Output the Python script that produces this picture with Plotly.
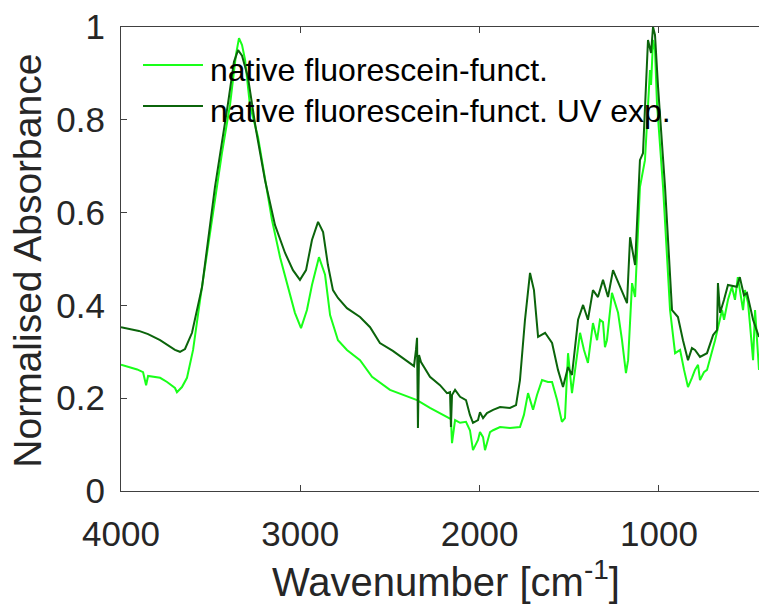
import plotly.graph_objects as go

# FTIR spectra: wavenumber (cm^-1) and normalised absorbance
wn_native = [4000, 3950, 3910, 3877, 3860, 3849, 3810, 3782, 3743, 3699, 3688, 3660, 3632, 3598,
             3559, 3504, 3437, 3392, 3359, 3342, 3325, 3308, 3281, 3236, 3197, 3158,
             3113, 3069, 3030, 2996, 2963, 2935, 2896, 2862, 2834, 2790, 2740, 2667,
             2600, 2500, 2416, 2349, 2277, 2221, 2182, 2160, 2154, 2137, 2109, 2076, 2054,
             2037, 2009, 1998, 1981, 1970, 1942, 1925, 1886, 1831, 1775, 1753, 1730,
             1702, 1680, 1652, 1619, 1596, 1568, 1541, 1524, 1507, 1485, 1462, 1440,
             1418, 1396, 1368, 1345, 1329, 1312, 1301, 1290, 1262, 1228, 1206, 1184,
             1172, 1150, 1133, 1106, 1078, 1050, 1044, 1033, 1022, 1011, 977, 938,
             910, 882, 860, 838, 816, 799, 782, 771, 749, 732, 687, 659, 648, 637,
             615, 593, 576, 560, 542, 531, 520, 503, 492, 475, 464, 453, 442]
abs_native = [0.272, 0.267, 0.262, 0.256, 0.228, 0.248, 0.246, 0.244, 0.235, 0.222, 0.213, 0.224, 0.244, 0.304,
              0.412, 0.556, 0.728, 0.832, 0.940, 0.976, 0.961, 0.929, 0.832, 0.763, 0.670, 0.584,
              0.504, 0.440, 0.384, 0.351, 0.390, 0.444, 0.504, 0.466, 0.379, 0.325, 0.304, 0.282,
              0.246, 0.218, 0.205, 0.196, 0.179, 0.168, 0.160, 0.155, 0.103, 0.153, 0.147, 0.149, 0.131,
              0.088, 0.110, 0.127, 0.116, 0.088, 0.127, 0.131, 0.138, 0.136, 0.138, 0.164, 0.211,
              0.175, 0.207, 0.239, 0.235, 0.235, 0.196, 0.149, 0.157, 0.297, 0.211, 0.282, 0.341,
              0.304, 0.276, 0.362, 0.325, 0.369, 0.364, 0.310, 0.325, 0.427, 0.384, 0.325, 0.254,
              0.282, 0.448, 0.418, 0.655, 0.713, 0.907, 0.875, 0.972, 0.950, 0.836, 0.655, 0.390,
              0.297, 0.304, 0.261, 0.224, 0.244, 0.261, 0.272, 0.239, 0.256, 0.261, 0.325, 0.373,
              0.390, 0.369, 0.412, 0.440, 0.412, 0.461, 0.412, 0.390, 0.433, 0.405, 0.358, 0.282,
              0.390, 0.326, 0.261]

wn_uv = [4000, 3950, 3900, 3849, 3782, 3699, 3671, 3643, 3604, 3548, 3476, 3403, 3370,
         3347, 3325, 3292, 3247, 3197, 3141, 3085, 3041, 3002, 2968, 2935, 2901,
         2873, 2846, 2818, 2790, 2740, 2667, 2611, 2556, 2484, 2410, 2366, 2355, 2349,
         2344, 2338, 2327, 2277, 2221, 2182, 2165, 2160, 2154, 2137, 2109, 2076,
         2054, 2037, 2009, 1998, 1981, 1959, 1925, 1886, 1831, 1797, 1775, 1747,
         1719, 1697, 1674, 1635, 1596, 1563, 1535, 1507, 1485, 1451, 1423, 1396,
         1368, 1340, 1312, 1284, 1256, 1217, 1178, 1161, 1133, 1106, 1089, 1061,
         1044, 1033, 1022, 1005, 966, 927, 894, 866, 838, 816, 799, 771, 732,
         698, 676, 671, 659, 637, 615, 566, 549, 526, 509, 475, 442]
abs_uv = [0.353, 0.349, 0.345, 0.338, 0.325, 0.304, 0.300, 0.306, 0.341, 0.440, 0.655, 0.836, 0.925,
          0.950, 0.938, 0.892, 0.778, 0.670, 0.573, 0.513, 0.476, 0.455, 0.476, 0.541, 0.580,
          0.558, 0.487, 0.433, 0.416, 0.394, 0.375, 0.353, 0.319, 0.302, 0.282, 0.269, 0.304, 0.330,
          0.136, 0.293, 0.278, 0.246, 0.228, 0.211, 0.213, 0.138, 0.207, 0.218, 0.203, 0.196,
          0.164, 0.147, 0.153, 0.170, 0.157, 0.168, 0.175, 0.181, 0.179, 0.185, 0.239, 0.369,
          0.470, 0.433, 0.332, 0.341, 0.319, 0.261, 0.224, 0.267, 0.250, 0.369, 0.401, 0.369,
          0.433, 0.418, 0.455, 0.418, 0.476, 0.440, 0.405, 0.547, 0.487, 0.713, 0.728, 0.972,
          0.944, 1.000, 0.983, 0.871, 0.655, 0.390, 0.375, 0.325, 0.282, 0.308, 0.304, 0.289,
          0.297, 0.336, 0.347, 0.448, 0.384, 0.412, 0.444, 0.440, 0.461, 0.422, 0.427, 0.369,
          0.332]

series_names = ["native fluorescein-funct.", "native fluorescein-funct. UV exp."]
series_colors = ["#19ff19", "#0b640b"]

x_ticks = [4000, 3000, 2000, 1000]
y_ticks = [0, 0.2, 0.4, 0.6, 0.8, 1]

FONT = "Liberation Sans, Arial, Helvetica, sans-serif"
AXIS_COLOR = "#404040"
TEXT_COLOR = "#262626"

fig = go.Figure()
for wn, ab, name, col in zip([wn_native, wn_uv], [abs_native, abs_uv], series_names, series_colors):
    fig.add_trace(go.Scatter(x=wn, y=ab, mode="lines", name=name,
                             line=dict(color=col, width=2), showlegend=False))

fig.update_layout(
    width=759, height=612,
    margin=dict(l=121, r=0, t=27, b=121),
    paper_bgcolor="white", plot_bgcolor="white",
    font=dict(family=FONT, color=TEXT_COLOR),
    xaxis=dict(range=[4000, 442], tickvals=x_ticks, tickformat="d",
               showgrid=False, zeroline=False,
               showline=True, linecolor=AXIS_COLOR, linewidth=1, mirror="ticks",
               ticks="inside", ticklen=6, tickcolor=AXIS_COLOR,
               tickfont=dict(size=35, color=TEXT_COLOR), ticklabelstandoff=12),
    yaxis=dict(range=[0, 1], tickvals=y_ticks,
               showgrid=False, zeroline=False,
               showline=True, linecolor=AXIS_COLOR, linewidth=1, mirror=False,
               ticks="inside", ticklen=6, tickcolor=AXIS_COLOR,
               tickfont=dict(size=35, color=TEXT_COLOR), ticklabelstandoff=8),
)

# Axis titles
fig.add_annotation(text="Wavenumber [cm<sup>-1</sup>]", xref="paper", yref="paper",
                   x=0.509, y=-0.19, xanchor="center", yanchor="middle",
                   showarrow=False, font=dict(size=40, color=TEXT_COLOR))
fig.add_annotation(text="Normalised Absorbance", xref="paper", yref="paper",
                   x=-0.146, y=0.496, xanchor="center", yanchor="middle", textangle=-90,
                   showarrow=False, font=dict(size=39, color=TEXT_COLOR))

# Legend: line samples and labels in the upper-left corner of the axes
legend_rows = [0.918, 0.830]
for name, col, yrow in zip(series_names, series_colors, legend_rows):
    fig.add_shape(type="line", xref="paper", yref="paper",
                  x0=0.0345, x1=0.1285, y0=yrow, y1=yrow,
                  line=dict(color=col, width=2))
    fig.add_annotation(text=name, xref="paper", yref="paper",
                       x=0.1364, y=yrow - 0.01, xanchor="left", yanchor="middle",
                       showarrow=False, font=dict(size=32, color="black"))

fig.write_html("out.html")
